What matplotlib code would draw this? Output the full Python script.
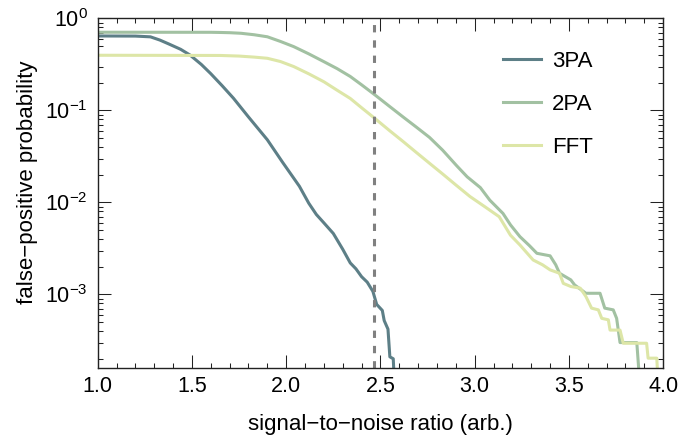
import matplotlib
matplotlib.use("Agg")
import matplotlib.pyplot as plt
from matplotlib.ticker import MultipleLocator, FormatStrFormatter

plt.rcParams['font.family'] = ['Liberation Sans', 'DejaVu Sans']
plt.rcParams['mathtext.fontset'] = 'custom'
plt.rcParams['mathtext.rm'] = 'Liberation Sans'
plt.rcParams['mathtext.it'] = 'Liberation Sans:italic'
plt.rcParams['mathtext.bf'] = 'Liberation Sans:bold'

# 3PA
snr_3pa = [1.00, 1.20, 1.28, 1.33, 1.38, 1.44, 1.49, 1.55, 1.60, 1.66, 1.72, 1.80,
           1.90, 1.98, 2.07, 2.12, 2.16, 2.20, 2.25, 2.30, 2.34, 2.37, 2.40, 2.43,
           2.46, 2.48, 2.51, 2.52, 2.54, 2.55, 2.568, 2.575]
fpp_3pa = [0.645, 0.643, 0.631, 0.582, 0.525, 0.462, 0.40, 0.316, 0.251, 0.186, 0.136, 0.085,
           0.048, 0.0275, 0.0150, 0.0098, 0.0074, 0.0060, 0.0046, 0.0031, 0.0022, 0.0019, 0.00156, 0.00136,
           0.00108, 0.00078, 0.00067, 0.00052, 0.00042, 0.00021, 0.00020, 0.0001]

# 2PA
snr_2pa = [1.00, 1.60, 1.65, 1.70, 1.76, 1.83, 1.90, 1.97, 2.04, 2.12, 2.20, 2.27,
           2.34, 2.40, 2.47, 2.55, 2.62, 2.69, 2.76, 2.83, 2.905, 2.96, 3.03, 3.08,
           3.15, 3.19, 3.24, 3.29, 3.33, 3.40, 3.43, 3.45, 3.51, 3.53, 3.59, 3.665,
           3.69, 3.735, 3.753, 3.771, 3.86, 3.877]
fpp_2pa = [0.708, 0.707, 0.704, 0.70, 0.69, 0.665, 0.632, 0.562, 0.494, 0.412, 0.339, 0.285,
           0.234, 0.19, 0.148, 0.110, 0.085, 0.066, 0.051, 0.037, 0.025, 0.019, 0.0145, 0.0106,
           0.0076, 0.0057, 0.00425, 0.0034, 0.0028, 0.00263, 0.0021, 0.0017, 0.00144, 0.00127, 0.00103, 0.00103,
           0.00071, 0.00068, 0.00055, 0.00030, 0.00030, 0.0001]

# FFT
snr_fft = [1.00, 1.65, 1.75, 1.83, 1.90, 1.97, 2.04, 2.12, 2.20, 2.27, 2.34, 2.40,
           2.47, 2.55, 2.62, 2.69, 2.76, 2.83, 2.90, 2.975, 3.05, 3.13, 3.19, 3.24,
           3.31, 3.36, 3.40, 3.45, 3.47, 3.51, 3.56, 3.59, 3.62, 3.656, 3.674, 3.709,
           3.718, 3.771, 3.788, 3.912, 3.92, 3.966, 3.974]
fpp_fft = [0.398, 0.396, 0.39, 0.38, 0.369, 0.34, 0.30, 0.25, 0.205, 0.166, 0.135, 0.107,
           0.082, 0.060, 0.046, 0.035, 0.0267, 0.0204, 0.0155, 0.0116, 0.0091, 0.0070, 0.0044, 0.00345,
           0.00237, 0.0021, 0.00185, 0.0017, 0.00132, 0.00122, 0.00117, 0.00095, 0.00071, 0.00068, 0.00055, 0.00053,
           0.00041, 0.00041, 0.000295, 0.000295, 0.000203, 0.000203, 0.0001]

threshold = 2.467

fig = plt.figure(figsize=(6.83, 4.36), dpi=100)
ax = fig.add_axes([0.143, 0.1567, 0.828, 0.801])

ax.plot(snr_3pa, fpp_3pa, color='#5d7f87', lw=2.2, label='3PA')
ax.plot(snr_2pa, fpp_2pa, color='#a2c1a2', lw=2.2, label='2PA')
ax.plot(snr_fft, fpp_fft, color='#dde6a7', lw=2.2, label='FFT')
ax.axvline(threshold, color='#808080', lw=2.2, dashes=(2.4, 2.6))

ax.set_yscale('log')
ax.set_xlim(1.0, 4.0)
ax.set_ylim(1.6e-4, 1)
ax.xaxis.set_major_locator(MultipleLocator(0.5))
ax.xaxis.set_minor_locator(MultipleLocator(0.1))
ax.xaxis.set_major_formatter(FormatStrFormatter('%.1f'))

ax.tick_params(which='both', direction='in', top=True, right=True, width=0.75, colors='#222222',
               labelcolor='black', labelsize=15.5)
ax.tick_params(which='major', length=9.4)
ax.tick_params(which='minor', length=3.6)
ax.tick_params(axis='x', pad=6)
ax.tick_params(axis='y', pad=7)
for s in ax.spines.values():
    s.set_linewidth(1.0)
    s.set_color('#222222')

ax.set_xlabel('signal\u2212to\u2212noise ratio (arb.)', fontsize=16)
ax.set_ylabel('false\u2212positive probability', fontsize=16)
ax.xaxis.set_label_coords(0.5, -0.133)
ax.yaxis.set_label_coords(-0.106, 0.53)

ax.legend(loc='center left', bbox_to_anchor=(0.717, 0.754), frameon=False, fontsize=16,
          handlelength=1.7, handletextpad=0.5, labelspacing=1.0, borderpad=0, borderaxespad=0)

fig.savefig('out.png', dpi=100)
